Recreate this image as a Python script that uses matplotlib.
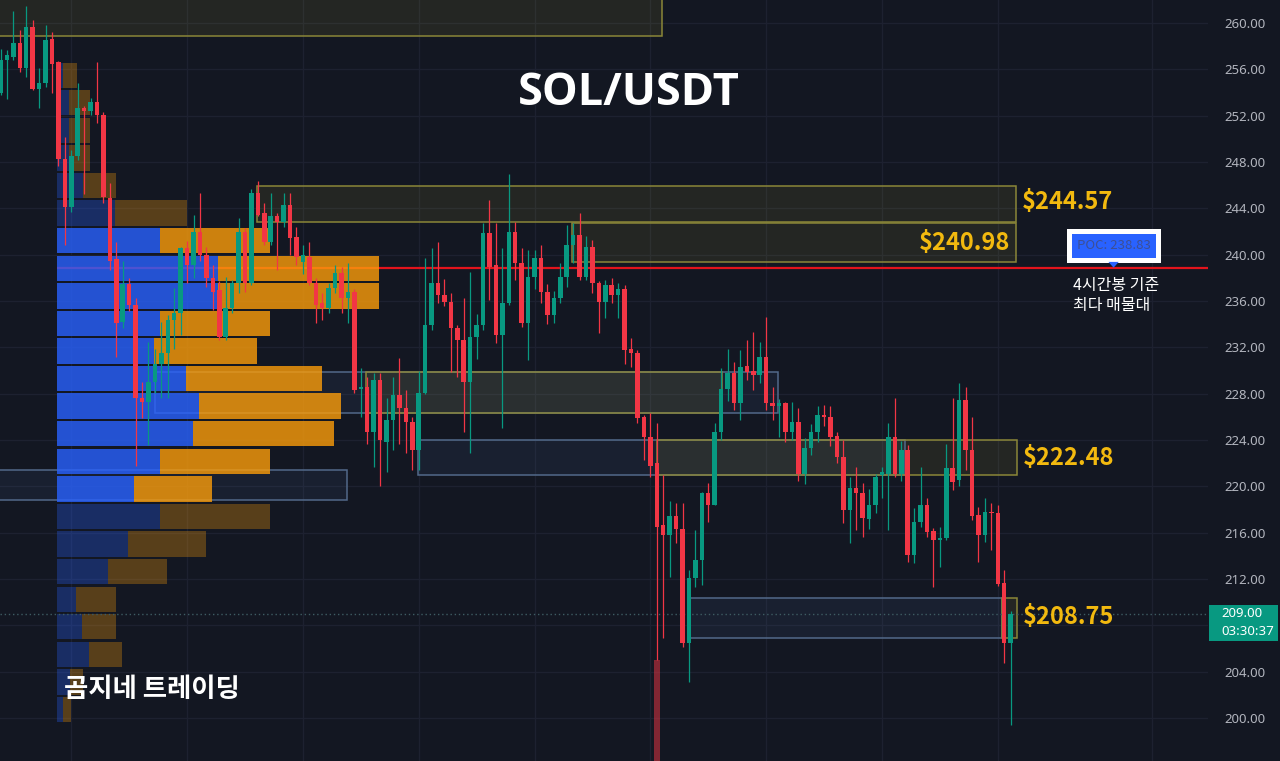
import matplotlib
matplotlib.use("Agg")
import matplotlib.pyplot as plt
from matplotlib.patches import Rectangle, Polygon
from matplotlib.transforms import blended_transform_factory

plt.rcParams['font.family'] = ['Noto Sans CJK KR', 'DejaVu Sans']

# ---------------- 4h candles (SOL/USDT) ----------------
opens = [254.0, 256.8, 257.1, 258.3, 256.1, 259.7, 254.3, 254.8, 258.6, 256.6,
         248.3, 244.1, 248.5, 252.7, 252.4, 253.2, 252.1, 244.9, 239.6, 234.2,
         237.5, 235.7, 227.6, 227.3, 229.0, 230.6, 231.5, 234.4, 235.0, 240.6,
         239.1, 242.0, 240.0, 238.0, 236.95, 232.9, 235.4, 237.6, 242.0, 237.6,
         245.3, 243.6, 241.1, 243.3, 242.8, 244.3, 241.5, 239.4, 239.8, 237.6,
         235.8, 235.4, 237.1, 238.4, 236.3, 236.8, 228.4, 228.6, 224.7, 229.2,
         223.8, 225.7, 227.9, 226.8, 225.6, 223.1, 228.1, 233.9, 237.6, 236.5,
         235.9, 233.7, 232.6, 229.0, 232.9, 233.9, 241.9, 239.1, 233.1, 235.8,
         242.0, 239.3, 234.1, 238.1, 239.7, 236.8, 234.8, 236.3, 238.1, 240.8,
         241.7, 238.1, 240.7, 237.6, 235.9, 237.4, 236.5, 237.0, 231.9, 231.5,
         226.0, 224.3, 222.0, 216.7, 215.8, 217.4, 216.3, 206.5, 212.1, 213.6,
         219.4, 218.4, 224.7, 228.4, 229.8, 227.2, 230.4, 230.0, 229.6, 231.2,
         227.2, 226.9, 227.2, 224.7, 225.6, 221.1, 223.3, 224.7, 226.2, 226.0,
         224.35, 222.5, 218.0, 219.85, 219.45, 217.2, 218.4, 221.0, 221.1, 224.3,
         221.1, 223.1, 214.1, 216.95, 218.4, 216.15, 215.4, 215.5, 221.6, 220.55,
         227.45, 223.1, 217.5, 215.8, 217.8, 217.7, 211.7, 206.5]
highs = [257.8, 257.7, 261.0, 259.4, 261.5, 260.3, 256.1, 259.8, 259.2, 256.7,
         250.2, 249.0, 254.8, 252.8, 253.5, 256.6, 252.3, 246.2, 241.1, 239.5,
         238.0, 236.3, 229.0, 232.5, 231.9, 234.2, 234.8, 237.1, 240.7, 241.2,
         243.4, 245.3, 240.7, 239.1, 237.7, 238.1, 237.8, 243.2, 242.3, 245.7,
         246.4, 244.5, 245.3, 243.6, 245.3, 245.3, 242.4, 240.8, 241.1, 238.0,
         236.7, 237.6, 239.1, 238.9, 239.3, 237.0, 230.2, 229.4, 229.8, 229.8,
         227.6, 229.4, 231.1, 228.3, 226.0, 230.0, 239.7, 240.6, 241.1, 237.9,
         236.7, 233.9, 236.3, 238.5, 234.9, 242.7, 244.7, 242.7, 240.6, 247.0,
         242.8, 240.6, 240.4, 240.4, 240.8, 237.5, 236.9, 239.3, 242.6, 242.7,
         243.6, 241.6, 241.3, 237.7, 237.8, 238.0, 237.6, 237.4, 232.8, 231.8,
         226.2, 226.3, 225.5, 221.0, 218.7, 218.6, 218.6, 212.8, 216.2, 219.5,
         220.3, 225.5, 230.2, 231.9, 230.7, 231.8, 232.6, 233.3, 232.5, 234.6,
         228.6, 227.5, 227.3, 227.3, 226.8, 224.2, 225.4, 226.9, 227.0, 226.9,
         224.7, 224.0, 220.8, 221.7, 220.3, 219.8, 221.1, 221.7, 225.5, 227.6,
         223.9, 223.6, 218.1, 221.7, 219.0, 216.4, 216.5, 223.7, 227.6, 228.9,
         228.6, 226.0, 218.2, 219.0, 218.6, 218.4, 212.8, 209.2]
lows = [253.8, 253.4, 256.8, 255.8, 255.3, 254.2, 252.7, 254.5, 254.0, 247.7,
        240.8, 243.7, 248.2, 245.2, 252.1, 251.4, 244.5, 238.7, 231.2, 233.7,
        235.1, 221.8, 225.9, 223.6, 228.1, 227.6, 227.6, 231.9, 233.1, 237.6,
        238.0, 239.5, 237.2, 235.2, 232.6, 232.6, 235.0, 236.7, 236.8, 237.4,
        243.3, 240.8, 240.8, 238.7, 242.4, 240.0, 239.1, 238.3, 237.4, 234.1,
        234.4, 235.0, 236.7, 235.0, 234.1, 228.1, 226.0, 223.7, 221.7, 220.0,
        221.2, 223.1, 223.7, 222.9, 221.4, 221.4, 228.0, 233.5, 235.8, 235.6,
        229.9, 229.4, 224.7, 222.9, 231.0, 233.5, 236.1, 232.4, 225.0, 235.7,
        237.8, 233.8, 230.9, 237.0, 235.8, 234.0, 234.1, 235.8, 237.2, 239.3,
        237.8, 237.8, 236.7, 233.2, 234.5, 235.8, 234.5, 230.6, 230.3, 225.5,
        222.3, 220.8, 205.0, 206.9, 212.2, 215.1, 206.1, 203.1, 211.3, 211.5,
        216.9, 218.4, 224.0, 227.4, 226.6, 225.7, 229.2, 228.3, 228.9, 226.6,
        225.7, 224.3, 223.8, 224.0, 220.5, 220.2, 222.7, 223.8, 225.2, 223.5,
        222.0, 216.8, 215.1, 216.2, 215.6, 216.3, 217.7, 219.0, 216.2, 220.8,
        220.5, 213.5, 213.4, 216.5, 215.6, 211.3, 213.0, 215.4, 219.7, 220.0,
        221.4, 217.1, 213.5, 215.2, 214.5, 211.4, 204.75, 199.4]
closes = [256.8, 257.2, 258.3, 256.1, 259.7, 254.3, 254.8, 258.5, 256.5, 248.3,
          244.1, 248.5, 252.7, 252.4, 253.2, 252.1, 245.0, 239.5, 234.1, 237.5,
          235.7, 227.6, 227.3, 229.0, 230.6, 231.5, 234.4, 235.0, 240.6, 239.1,
          242.0, 240.0, 238.0, 236.8, 232.9, 235.4, 237.6, 242.0, 237.6, 245.3,
          243.4, 241.1, 243.3, 242.8, 244.3, 241.4, 239.8, 240.0, 237.6, 235.7,
          235.4, 237.1, 238.4, 236.3, 236.8, 228.3, 228.6, 224.7, 229.2, 224.0,
          225.7, 227.9, 226.8, 225.6, 223.1, 228.1, 233.9, 237.6, 236.5, 235.9,
          233.7, 232.6, 229.0, 232.9, 233.9, 241.9, 238.9, 233.1, 235.8, 242.0,
          239.3, 234.1, 238.1, 239.7, 236.8, 234.8, 236.3, 238.1, 240.8, 241.7,
          238.1, 240.7, 237.6, 235.9, 237.4, 236.5, 237.0, 231.8, 231.5, 225.9,
          224.3, 221.8, 216.5, 215.8, 217.4, 216.3, 206.5, 212.1, 213.6, 219.4,
          218.4, 224.7, 228.4, 229.8, 227.2, 230.3, 229.9, 229.6, 231.2, 227.2,
          226.9, 227.2, 224.7, 225.6, 221.1, 223.3, 224.7, 226.2, 226.0, 224.3,
          222.5, 218.0, 219.85, 219.4, 217.25, 218.4, 220.8, 221.2, 224.3, 221.1,
          223.1, 214.1, 216.95, 218.4, 216.1, 215.4, 215.5, 221.55, 220.4, 227.45,
          223.1, 217.4, 215.8, 217.8, 217.7, 211.6, 206.45, 209.0]

# volume of the capitulation bar (the only one that reaches into view)
volume_bar_index = [102]
volume_bar_value = [3.6]          # millions SOL
volume_axis_top = 27.0

# ---------------- visible range volume profile ----------------
vp_poc = 238.83
vp_bin = 2.381
vp_poc_row = 7
vp_up = [6, 12, 12, 12, 26, 58, 103, 161, 161, 103, 97, 129, 142, 136, 103, 77,
         103, 71, 51, 19, 25, 32, 13, 6]
vp_down = [14, 21, 21, 21, 33, 72, 110, 161, 161, 110, 103, 136, 142, 141, 110, 78,
           110, 78, 59, 40, 34, 33, 13, 8]
vp_value_area = range(6, 16)
vp_centers = [vp_poc + vp_bin * (vp_poc_row - k) for k in range(len(vp_up))]

# ---------------- supply / demand zones ----------------
# (first bar, last bar, low, high, kind)
zones = [
    (-2.0, 102.8, 258.88, 264.0, 'y'),
    (39.9, 157.8, 242.82, 245.93, 'y'),
    (88.9, 157.8, 239.37, 242.70, 'y'),
    (-2.0, 53.9, 218.82, 221.41, 'b'),
    (24.0, 120.8, 226.35, 229.85, 'b'),
    (56.8, 112.1, 226.35, 229.85, 'y'),
    (64.9, 140.6, 220.98, 224.00, 'b'),
    (102.0, 158.0, 220.98, 224.00, 'y'),
    (107.2, 155.7, 206.88, 210.33, 'b'),
    (155.7, 158.0, 206.88, 210.33, 'y'),
]
zone_levels = [244.57, 240.98, 222.48, 208.75]
zone_label_side = ['right', 'left', 'right', 'right']

price_ticks = list(range(200, 261, 4))
vgrid_bars = [11, 29, 47, 65, 83, 101, 119, 137, 155, 179]
last_price = 209.00
countdown = '03:30:37'

# ---------------- styling ----------------
BG = '#131722'
GRID = '#1d2130'
GREEN = '#089981'
RED = '#f23645'
POC_RED = '#e3141c'
GOLD = '#f2b90f'
BAR_PX = 6.434            # horizontal pixels per bar
PLOT_W = 1208             # pixel width of the price pane

fig = plt.figure(figsize=(12.8, 7.61), dpi=100, facecolor=BG)
ax = fig.add_axes([0, 0, PLOT_W / 1280, 1], facecolor=BG)
x_left, x_right = -0.5 / BAR_PX, (PLOT_W - 0.5) / BAR_PX
ax.set_xlim(x_left, x_right)
ax.set_ylim(196.29, 261.99)
for s in ax.spines.values():
    s.set_visible(False)

# grid
for t in price_ticks:
    ax.axhline(t, color=GRID, lw=1.0, zorder=0)
for b in vgrid_bars:
    ax.axvline(b, color=GRID, lw=1.0, zorder=0)

# zones
for x0, x1, lo, hi, kind in zones:
    if kind == 'y':
        fc, ec = (1.0, 0.92, 0.23, 0.075), '#8a8638'
    else:
        fc, ec = (0.35, 0.5, 0.75, 0.09), '#52698a'
    ax.add_patch(Rectangle((x0, lo), x1 - x0, hi - lo, fc=fc, ec='none', zorder=1))
    ax.add_patch(Rectangle((x0, lo), x1 - x0, hi - lo, fc='none', ec=ec, lw=1.1, zorder=1.2))

# point of control line
vp_left = (57 - 0.5) / BAR_PX
ax.hlines(vp_poc, vp_left, x_right, color=POC_RED, lw=1.6, zorder=1.5)

# volume profile rows
vp_scale = 1 / BAR_PX
bar_h = vp_bin * 0.92
for k, (u, d) in enumerate(zip(vp_up, vp_down)):
    a = 0.8 if k in vp_value_area else 0.3
    c = vp_centers[k]
    ax.barh(c, u * vp_scale, left=vp_left, height=bar_h,
            color=(41/255, 98/255, 1.0, a), lw=0, zorder=2)
    ax.barh(c, d * vp_scale, left=vp_left + u * vp_scale, height=bar_h,
            color=(251/255, 157/255, 10/255, a), lw=0, zorder=2)

# last price dotted line
ax.axhline(last_price, color='#3e5c63', lw=1.0, ls=(0, (1, 2)), zorder=2.5)

# candles
n = len(opens)
idx = list(range(n))
colors = [GREEN if c >= o else RED for o, c in zip(opens, closes)]
ax.vlines(idx, lows, highs, colors=colors, lw=0.9, zorder=4)
bottoms = [min(o, c) for o, c in zip(opens, closes)]
heights = [max(abs(c - o), 0.12) for o, c in zip(opens, closes)]
ax.bar(idx, heights, bottom=bottoms, width=0.7, color=colors, lw=0, zorder=5)

# volume pane (overlay)
axv = ax.twinx()
axv.set_ylim(0, volume_axis_top)
axv.axis('off')
axv.bar(volume_bar_index, volume_bar_value, width=0.85,
        color=(242/255, 54/255, 69/255, 0.5), lw=0)

# zone labels, placed next to the right end of the zone that holds the level
for lvl, side in zip(zone_levels, zone_label_side):
    end = [z[1] for z in zones if z[4] == 'y' and z[2] <= lvl <= z[3] and z[1] > 150][0]
    if side == 'right':
        ax.text(end + 0.95, lvl, f'${lvl:.2f}', ha='left', va='center', fontsize=17,
                fontweight='bold', color=GOLD, zorder=8)
    else:
        ax.text(end - 0.9, lvl, f'${lvl:.2f}', ha='right', va='center', fontsize=17,
                fontweight='bold', color=GOLD, zorder=8)

# POC call-out
poc_x = 173.0
ax.text(poc_x, vp_poc + 1.95, f'POC: {vp_poc:.2f}', ha='center', va='center',
        fontsize=9.5, color='#3d4f94', zorder=9,
        bbox=dict(boxstyle='square,pad=0.6', fc='#2962ff', ec='white', lw=3.6))
ax.add_patch(Polygon([(poc_x - 0.8, vp_poc + 0.55), (poc_x + 0.8, vp_poc + 0.55),
                      (poc_x, vp_poc + 0.05)], closed=True, fc='#2962ff', ec='none', zorder=9))
ax.text(166.7, vp_poc - 0.75, '4시간봉 기준\n최다 매물대', ha='left', va='top',
        fontsize=11.5, color='white', linespacing=1.25, zorder=9)

# headline and signature
ax.text(97.7, 253.96, 'SOL/USDT', ha='center', va='center', fontsize=32.5,
        fontweight='bold', color='white', family=['Open Sans', 'DejaVu Sans'], zorder=9)
ax.text(9.9, 202.5, '곰지네 트레이딩', ha='left', va='center', fontsize=19,
        fontweight='bold', color='white', zorder=9)

# price scale (the level under the last-price tag is covered by the tag)
ax.set_xticks([])
ax.yaxis.tick_right()
ax.set_yticks(price_ticks)
ax.set_yticklabels(['' if abs(t - last_price) < 2 else f'{t:.2f}' for t in price_ticks],
                   family=['Noto Sans', 'DejaVu Sans'])
ax.tick_params(axis='y', length=0, pad=12, labelcolor='#b2b5be', labelsize=9.5)

# last price tag
tr = blended_transform_factory(ax.transAxes, ax.transData)
ax.add_patch(Rectangle((1209 / PLOT_W, last_price - 2.31), 69 / PLOT_W, 3.1,
                       transform=tr, fc=GREEN, ec='none', clip_on=False, zorder=10))
ax.text(1221 / PLOT_W, last_price + 0.05, f'{last_price:.2f}', transform=tr, ha='left',
        va='center', fontsize=9.5, fontweight='bold', color='white', zorder=11,
        clip_on=False, family=['Noto Sans', 'DejaVu Sans'])
ax.text(1221 / PLOT_W, last_price - 1.55, countdown, transform=tr, ha='left', va='center',
        fontsize=9.5, color='white', zorder=11, clip_on=False,
        family=['Noto Sans', 'DejaVu Sans'])

fig.savefig('out.png', dpi=100, facecolor=BG)
